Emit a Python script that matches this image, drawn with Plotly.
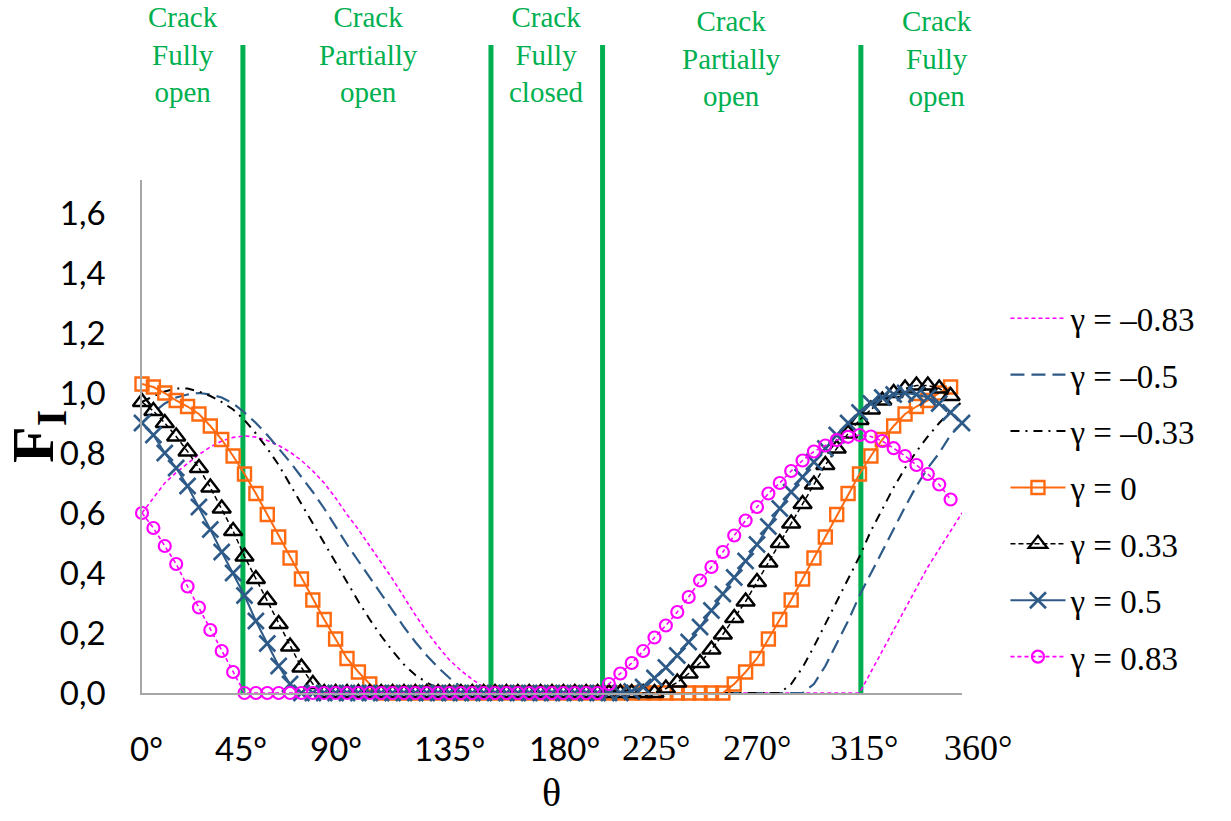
import plotly.graph_objects as go

# Loading angle (degrees), one sample every 5 degrees
theta = list(range(0, 365, 5))

# Normalised mode-I factor F_I for each biaxiality ratio gamma
f_m083 = [0.60, 0.65, 0.70, 0.735, 0.765, 0.795, 0.82, 0.84, 0.852, 0.857, 0.853, 0.842,
          0.825, 0.803, 0.775, 0.74, 0.70, 0.65, 0.595, 0.545, 0.49, 0.435, 0.38, 0.32,
          0.26, 0.205, 0.155, 0.11, 0.075, 0.045, 0.02, 0.0,
          0, 0, 0, 0, 0, 0, 0, 0, 0, 0, 0, 0, 0, 0, 0, 0,
          0, 0, 0, 0, 0, 0, 0, 0, 0, 0, 0, 0, 0, 0, 0, 0,
          0.07, 0.14, 0.21, 0.28, 0.35, 0.42, 0.48, 0.54, 0.60]

f_m050 = [0.90, 0.935, 0.965, 0.985, 0.995, 1.0, 0.995, 0.985, 0.965, 0.935, 0.90, 0.86,
          0.815, 0.77, 0.72, 0.67, 0.615, 0.555, 0.495, 0.44, 0.385, 0.33, 0.275, 0.22,
          0.17, 0.125, 0.085, 0.05, 0.02, 0.005, 0.0,
          0, 0, 0, 0, 0, 0, 0, 0, 0, 0, 0, 0, 0, 0,
          0, 0, 0, 0, 0, 0, 0, 0, 0, 0, 0, 0, 0, 0,
          0.03, 0.09, 0.165, 0.24, 0.325, 0.40, 0.47, 0.545, 0.62, 0.69, 0.75, 0.80,
          0.86, 0.90]

f_m033 = [0.97, 0.99, 1.005, 1.015, 1.015, 1.005, 0.99, 0.97, 0.945, 0.91, 0.865, 0.815,
          0.76, 0.695, 0.63, 0.565, 0.50, 0.435, 0.37, 0.305, 0.245, 0.19, 0.14, 0.095,
          0.06, 0.035, 0.015, 0.0,
          0, 0, 0, 0, 0, 0, 0, 0, 0, 0, 0, 0, 0, 0, 0,
          0, 0, 0, 0, 0, 0, 0, 0, 0, 0, 0, 0, 0, 0,
          0.03, 0.085, 0.155, 0.23, 0.31, 0.38, 0.455, 0.54, 0.615, 0.685, 0.75, 0.805,
          0.855, 0.90, 0.94, 0.97]

f_000 = [1.03, 1.02, 1.0, 0.975, 0.955, 0.93, 0.89, 0.845, 0.79, 0.73, 0.665, 0.595,
         0.52, 0.45, 0.38, 0.31, 0.245, 0.18, 0.115, 0.07, 0.03, 0.0,
         0, 0, 0, 0, 0, 0, 0, 0, 0, 0, 0, 0, 0, 0, 0,
         0, 0, 0, 0, 0, 0, 0, 0, 0, 0, 0, 0, 0, 0, 0,
         0.03, 0.07, 0.115, 0.18, 0.245, 0.31, 0.38, 0.45, 0.52, 0.595, 0.665, 0.73,
         0.79, 0.845, 0.89, 0.93, 0.955, 0.975, 1.0, 1.02]

f_p033 = [0.97, 0.94, 0.90, 0.855, 0.805, 0.75, 0.685, 0.615, 0.54, 0.455, 0.38, 0.31,
          0.23, 0.155, 0.085, 0.03, 0.0,
          0, 0, 0, 0, 0, 0, 0, 0, 0, 0, 0, 0, 0, 0, 0,
          0, 0, 0, 0, 0, 0, 0, 0, 0, 0, 0, 0, 0, 0,
          0.015, 0.035, 0.065, 0.10, 0.145, 0.195, 0.25, 0.305, 0.37, 0.435, 0.50, 0.565,
          0.63, 0.695, 0.76, 0.815, 0.865, 0.91, 0.945, 0.975, 1.0, 1.015, 1.025, 1.025,
          1.015, 0.99]

f_p050 = [0.90, 0.86, 0.80, 0.75, 0.69, 0.62, 0.545, 0.47, 0.40, 0.325, 0.24, 0.165,
          0.09, 0.03, 0.0,
          0, 0, 0, 0, 0, 0, 0, 0, 0, 0, 0, 0, 0, 0,
          0, 0, 0, 0, 0, 0, 0, 0, 0, 0, 0, 0, 0, 0,
          0.005, 0.02, 0.05, 0.085, 0.125, 0.17, 0.22, 0.275, 0.33, 0.385, 0.44, 0.495,
          0.555, 0.615, 0.67, 0.72, 0.77, 0.815, 0.86, 0.90, 0.935, 0.965, 0.985, 0.995,
          1.0, 0.995, 0.985, 0.965, 0.935, 0.90]

f_p083 = [0.60, 0.55, 0.49, 0.43, 0.355, 0.285, 0.21, 0.14, 0.07, 0.0,
          0, 0, 0, 0, 0, 0, 0, 0, 0, 0, 0, 0, 0, 0, 0, 0,
          0, 0, 0, 0, 0, 0, 0, 0, 0, 0, 0, 0, 0, 0, 0,
          0.03, 0.065, 0.10, 0.14, 0.185, 0.225, 0.27, 0.32, 0.375, 0.42, 0.47, 0.525,
          0.575, 0.62, 0.665, 0.70, 0.74, 0.775, 0.805, 0.825, 0.843, 0.854, 0.86, 0.855,
          0.84, 0.816, 0.79, 0.76, 0.73, 0.695, 0.645]

# Angles separating the crack-face contact regimes
regime_bounds = [44.3, 153.2, 202.2, 315.6]
regime_labels = ["Crack<br>Fully<br>open", "Crack<br>Partially<br>open",
                 "Crack<br>Fully<br>closed", "Crack<br>Partially<br>open",
                 "Crack<br>Fully<br>open"]
regime_label_x = [18.0, 99.6, 177.4, 258.6, 348.9]

tick_vals = [0, 45, 90, 135, 180, 225, 270, 315, 360]
tick_text = ["0°", "45°", "90°", "135°", "180°", "225°", "270°", "315°", "360°"]
serif_ticks = {"225°", "270°", "315°", "360°"}
# small horizontal nudges (px) of the angle labels
tick_shift = [4, -4, -11, 0, 12, 1, 0, 4, 16]

SERIF = "Times New Roman"
SANS = "Lato"
MAGENTA = "#FF00FF"
BLUE = "#2E5A88"
ORANGE = "#FF6A10"
GREEN = "#00B050"

fig = go.Figure()

series = [
    dict(name="γ = –0.83", y=f_m083, mode="lines",
         line=dict(color=MAGENTA, width=1.6, dash="4px,3px")),
    dict(name="γ = –0.5", y=f_m050, mode="lines",
         line=dict(color=BLUE, width=2.2, dash="14px,7px")),
    dict(name="γ = –0.33", y=f_m033, mode="lines",
         line=dict(color="black", width=2, dash="9px,6px,2px,6px")),
    dict(name="γ = 0", y=f_000, mode="lines+markers",
         line=dict(color=ORANGE, width=2),
         marker=dict(symbol="square-open", size=13, color=ORANGE,
                     line=dict(width=2.4, color=ORANGE))),
    dict(name="γ = 0.33", y=f_p033, mode="lines+markers",
         line=dict(color="black", width=1.5, dash="5px,3px"),
         marker=dict(symbol="triangle-up-open", size=16, color="black",
                     line=dict(width=2.4, color="black"))),
    dict(name="γ = 0.5", y=f_p050, mode="lines+markers",
         line=dict(color=BLUE, width=2),
         marker=dict(symbol="x-thin-open", size=16, color=BLUE,
                     line=dict(width=2.6, color=BLUE))),
    dict(name="γ = 0.83", y=f_p083, mode="lines+markers",
         line=dict(color=MAGENTA, width=1.6, dash="4px,3px"),
         marker=dict(symbol="circle-open", size=12, color=MAGENTA,
                     line=dict(width=2.2, color=MAGENTA))),
]

for i, s in enumerate(series):
    fig.add_trace(go.Scatter(
        x=theta[:len(s["y"])], y=s["y"], name=s["name"], mode=s["mode"],
        line=s["line"], marker=s.get("marker"), cliponaxis=False,
        legendgroup=f"g{i}", showlegend=True,
    ))

for xb in regime_bounds:
    fig.add_shape(type="line", xref="x", yref="paper", x0=xb, x1=xb,
                  y0=0.0, y1=1.263, line=dict(color=GREEN, width=5), layer="below")

label_y = [1.2437, 1.2437, 1.2437, 1.2378, 1.2378]
for txt, xl, yl in zip(regime_labels, regime_label_x, label_y):
    fig.add_annotation(text=txt, xref="x", yref="paper", x=xl, y=yl,
                       showarrow=False, xanchor="center", yanchor="middle",
                       align="center", font=dict(family=SERIF, size=29, color=GREEN))

# Angle labels drawn as annotations so the two halves can use different faces
for tv, tt, dx in zip(tick_vals, tick_text, tick_shift):
    fam = SERIF if tt in serif_ticks else SANS
    size = 36 if tt in serif_ticks else 33
    fig.add_annotation(text=tt, xref="x", yref="paper", x=tv, y=-0.107, xshift=dx,
                       showarrow=False, xanchor="center", yanchor="middle",
                       font=dict(family=fam, size=size, color="black"))

fig.add_annotation(text="θ", xref="paper", yref="paper", x=0.499, y=-0.193,
                   showarrow=False, xanchor="center", yanchor="middle",
                   font=dict(family=SERIF, size=40, color="black"))

fig.update_layout(
    width=1231, height=821,
    margin=dict(l=142, r=269, t=180, b=128),
    paper_bgcolor="white", plot_bgcolor="white",
    separators=", ",
    font=dict(family=SERIF),
    legend=dict(x=1.053, y=0.785, xanchor="left", yanchor="top",
                font=dict(family=SERIF, size=33, color="black"),
                itemwidth=55, tracegroupgap=10.5, traceorder="grouped",
                bgcolor="rgba(0,0,0,0)"),
    xaxis=dict(range=[0, 360], showgrid=False, zeroline=False, showline=True,
               linecolor="#A6A6A6", linewidth=1.5, ticks="",
               tickvals=tick_vals, showticklabels=False),
    yaxis=dict(range=[0, 1.71], showgrid=False, zeroline=False, showline=True,
               linecolor="#A6A6A6", linewidth=1.5, ticks="",
               tickvals=[0, 0.2, 0.4, 0.6, 0.8, 1.0, 1.2, 1.4, 1.6], tickformat=".1f",
               ticklabelstandoff=28,
               tickfont=dict(family=SANS, size=33, color="black"),
               title=dict(text="<b>F<sub>I</sub></b>", standoff=2,
                          font=dict(family=SERIF, size=60, color="black"))),
)

fig.write_html("out.html")
